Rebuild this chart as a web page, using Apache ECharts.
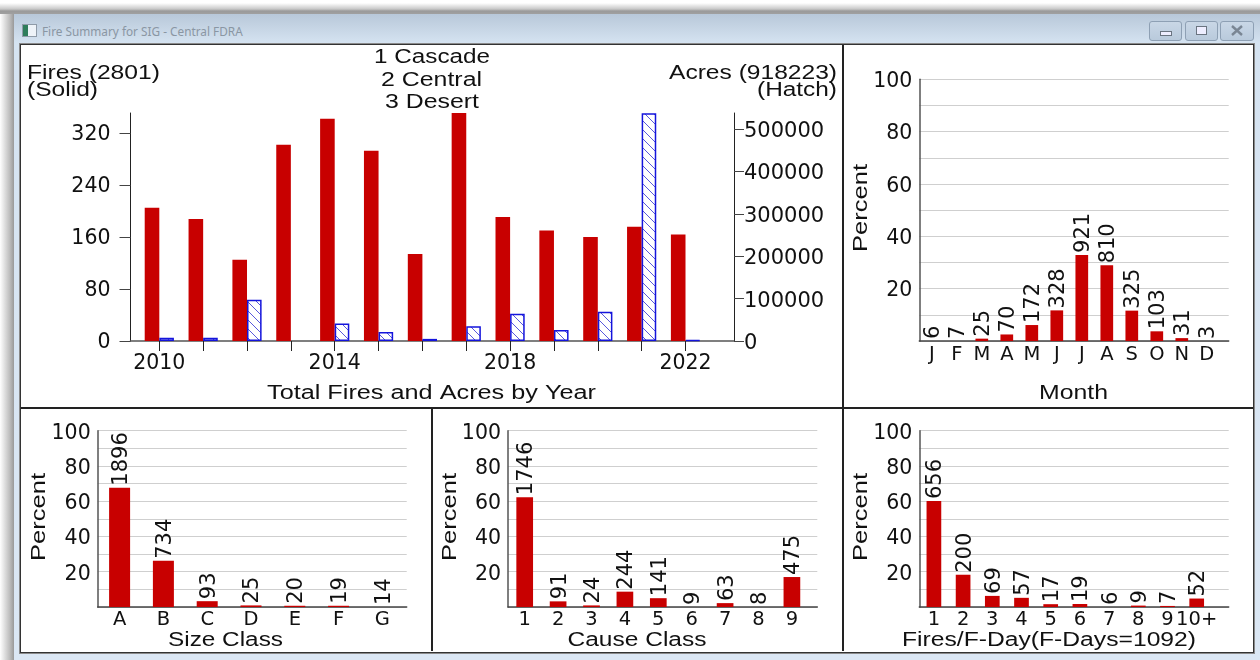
<!DOCTYPE html>
<html><head><meta charset="utf-8">
<script src="https://cdn.jsdelivr.net/npm/echarts@6/dist/echarts.min.js"></script>
<style>
html,body{margin:0;padding:0;width:1260px;height:660px;overflow:hidden;background:#fff}
.abs{position:absolute}
#shadow{left:0;top:0;width:1260px;height:660px;background:linear-gradient(90deg,#fff 0,#bbb 10px,#999 14px,transparent 14px)}
#shadowT{left:0;top:0;width:1260px;height:14px;background:linear-gradient(180deg,#fff 3px,#c8c8c8 9px,#9a9a9a 11px,#a0a0a0 14px)}
#win{left:14px;top:13px;width:1246px;height:647px;background:linear-gradient(180deg,#b7c7d8 0,#d5e3f1 30px,#dbe7f4 100%)}
#ttl{left:42px;top:23px;font:11.8px "Noto Sans";color:#8a96a3;white-space:nowrap}
#ico{left:22px;top:24px;width:13px;height:11px;border:1px solid #8f9ba8;background:linear-gradient(90deg,#2f7d5b 0,#2f7d5b 5px,#eef3f8 5px)}
.btn{top:21px;height:18px;border:1px solid #8ea0b4;border-radius:3px;background:linear-gradient(180deg,#c9d7e6,#b9cadc)}
#panel{left:20px;top:44px;width:1232px;height:607px;background:#fff;border:1px solid #333;outline:1px solid #8a8a8a;box-sizing:content-box}
.d{background:#222}
#c{left:0;top:0;width:1260px;height:660px}
</style></head><body>
<div class="abs" id="shadow"></div><div class="abs" id="win"></div><div class="abs" id="shadowT"></div>
<div class="abs" id="ico"></div>
<div class="abs" id="ttl">Fire Summary for SIG - Central FDRA</div>
<div class="abs btn" style="left:1149px;width:31px"><div class="abs" style="left:10px;top:9px;width:10px;height:3px;border:1px solid #6a7480;background:#eef"></div></div>
<div class="abs btn" style="left:1185px;width:31px"><div class="abs" style="left:10px;top:4px;width:9px;height:7px;border:1px solid #6a7480;background:#eef"></div></div>
<div class="abs btn" style="left:1220px;width:32px"><svg class="abs" style="left:10px;top:3px" width="12" height="11"><path d="M1 1L11 10M11 1L1 10" stroke="#7a8694" stroke-width="2.4"/></svg></div>
<div class="abs" id="panel"></div>
<div class="abs d" style="left:842px;top:45px;width:2px;height:606px"></div>
<div class="abs d" style="left:21px;top:407px;width:1232px;height:2px"></div>
<div class="abs d" style="left:431px;top:408px;width:2px;height:243px"></div>
<div class="abs" id="c"></div>
<script>
const years = [2010,2011,2012,2013,2014,2015,2016,2017,2018,2019,2020,2021,2022];
const yearLabels = [2010,2014,2018,2022];
const fires = [205,188,125,302,342,293,134,351,191,170,160,176,164];
const acres = [7800,7800,97000,null,41000,21000,5000,35000,64000,26000,69000,537000,2000];
const fireTicks = [0,80,160,240,320];
const acreTicks = [0,100000,200000,300000,400000,500000];

const monthCats = ['J','F','M','A','M','J','J','A','S','O','N','D'];
const monthCounts = [6,7,25,70,172,328,921,810,325,103,31,3];
const monthPct = [0,0,0.9,2.5,6.1,11.7,32.9,28.9,11.6,3.7,1.1,0];

const sizeCats = ['A','B','C','D','E','F','G'];
const sizeCounts = [1896,734,93,25,20,19,14];
const sizePct = [67.7,26.2,3.3,0.9,0.7,0.7,0];

const causeCats = ['1','2','3','4','5','6','7','8','9'];
const causeCounts = [1746,91,24,244,141,9,63,8,475];
const causePct = [62.3,3.2,0.9,8.7,5.0,0,2.2,0,17.0];

const fdayCats = ['1','2','3','4','5','6','7','8','9','10+'];
const fdayCounts = [656,200,69,57,17,19,6,9,7,52];
const fdayPct = [60.1,18.3,6.3,5.2,1.6,1.7,0,0.8,0.6,4.8];

const FONT = 'DejaVu Sans', FS = 20.5, RED = '#c80000', TXT = '#111';
const TFONT = '20px "Liberation Sans"';
const richDown = (size,pad)=>({a:{fontFamily:FONT,fontSize:size,color:TXT,padding:[pad,0,0,0]}});

const tile = document.createElement('canvas'); tile.width = 9; tile.height = 9;
const g = tile.getContext('2d');
g.fillStyle = '#fff'; g.fillRect(0,0,9,9);
g.strokeStyle = '#5858dc'; g.lineWidth = 1;
g.beginPath(); g.moveTo(-2,-2); g.lineTo(11,11); g.moveTo(-11,-2); g.lineTo(2,11); g.moveTo(7,-2); g.lineTo(20,11); g.stroke();

const grids = [], xAxes = [], yAxes = [], series = [];

grids.push({left:130.5, top:113, width:603.5, height:228});
xAxes.push({gridIndex:0, type:'value', min:2009.343, max:2023.106,
  axisLine:{lineStyle:{color:'#555',width:1.5}}, splitLine:{show:false},
  axisTick:{show:true, customValues:years, length:10, lineStyle:{color:'#222'}},
  axisLabel:{customValues:yearLabels, formatter:v=>String(v), fontFamily:FONT, fontSize:FS, color:TXT, margin:12}});
yAxes.push({gridIndex:0, type:'value', min:0, max:351, position:'left',
  axisLine:{show:true,onZero:false,lineStyle:{color:'#222'}}, splitLine:{show:false},
  axisTick:{show:true,length:11,customValues:fireTicks,lineStyle:{color:'#444'}},
  axisLabel:{customValues:fireTicks, formatter:v=>'{a|'+v+'}', rich:richDown(FS,3), margin:20}});
yAxes.push({gridIndex:0, type:'value', min:0, max:537736, position:'right',
  axisLine:{show:true,onZero:false,lineStyle:{color:'#222'}}, splitLine:{show:false},
  axisTick:{show:true,length:10,customValues:acreTicks,lineStyle:{color:'#444'}},
  axisLabel:{customValues:acreTicks, formatter:v=>'{a|'+v+'}', rich:richDown(21,5), margin:10}});
series.push({type:'bar', name:'Fires', xAxisIndex:0, yAxisIndex:0, barWidth:14.6, barGap:0,
  data:years.map((y,i)=>[y,fires[i]]), itemStyle:{color:RED}, silent:true, animation:false});
series.push({type:'bar', name:'Acres', xAxisIndex:0, yAxisIndex:1, barWidth:14.6, barGap:0,
  data:years.map((y,i)=>[y,acres[i]]),
  itemStyle:{color:{image:tile,repeat:'repeat'}, borderColor:'#1414dc', borderWidth:1.5}, silent:true, animation:false});

function panel(p){
  const idx = grids.length;
  grids.push({left:p.left, top:p.top, width:p.width, height:p.height});
  const ticks = p.cats.map((c,i)=>i+1);
  xAxes.push({gridIndex:idx, type:'value', min:0.5, max:0.5+p.width/p.step,
    axisLine:{lineStyle:{color:'#444',width:1.5}}, splitLine:{show:false}, axisTick:{show:false},
    axisLabel:{customValues:ticks, formatter:v=>p.cats[v-1], fontFamily:FONT,fontSize:19.5,color:TXT,margin:p.lm}});
  yAxes.push({gridIndex:idx, type:'value', min:0, max:100, interval:10,
    axisLine:{show:true,lineStyle:{color:'#555',width:1.5}}, axisTick:{show:false},
    splitLine:{show:true,lineStyle:{color:'#cfcfcf',width:1.2}},
    axisLabel:{formatter:v=>(v%20===0&&v>0)?'{a|'+v+'}':'', rich:richDown(FS,5), margin:7}});
  series.push({type:'bar', xAxisIndex:idx, yAxisIndex:yAxes.length-1, barWidth:p.bw, silent:true, animation:false,
    data:p.pct.map((v,i)=>({value:[i+1,v], label:{formatter:String(p.counts[i])}})),
    itemStyle:{color:RED},
    label:{show:true, position:'top', distance:2, offset:[0,2], rotate:90, align:'left', verticalAlign:'middle',
      fontFamily:FONT,fontSize:21,color:TXT}});
}
panel({left:919.3,top:79.3,width:309.4,height:261.7,step:25,bw:12.7,cats:monthCats,counts:monthCounts,pct:monthPct,lm:4});
panel({left:97.7,top:430.7,width:309,height:176.3,step:43.8,bw:21,cats:sizeCats,counts:sizeCounts,pct:sizePct,lm:3});
panel({left:508,top:430.7,width:309.3,height:176.3,step:33.4,bw:16.7,cats:causeCats,counts:causeCounts,pct:causePct,lm:3});
panel({left:919.3,top:430.7,width:309.4,height:176.3,step:29.2,bw:14.7,cats:fdayCats,counts:fdayCounts,pct:fdayPct,lm:3});

const mctx = document.createElement('canvas').getContext('2d');
mctx.font = TFONT;
const txt = (t,cx,cy,w,rot)=>({type:'text', x:cx, y:cy, rotation:rot||0, scaleX:w/mctx.measureText(t).width, silent:true,
  style:{text:t, fill:TXT, font:TFONT, textAlign:'center', textVerticalAlign:'middle'}});

const chart = echarts.init(document.getElementById('c'), null, {renderer:'canvas', width:1260, height:660});
chart.setOption({
  backgroundColor:'transparent', animation:false, tooltip:{show:false},
  grid:grids, xAxis:xAxes, yAxis:yAxes, series,
  graphic:[
    txt('1 Cascade',432,57.5,116), txt('2 Central',431.5,80,101), txt('3 Desert',432,102.5,94),
    txt('Fires (2801)',93.5,73.5,133), txt('(Solid)',62.5,90.5,71),
    txt('Acres (918223)',753,73.5,168), txt('(Hatch)',797,90.5,80),
    txt('Total Fires and Acres by Year',431.5,393.5,329),
    txt('Month',1073.5,393.5,69),
    txt('Size Class',225.5,640,115),
    txt('Cause Class',637,640,139),
    txt('Fires/F-Day(F-Days=1092)',1049,640,294),
    txt('Percent',861,208,88,Math.PI/2),
    txt('Percent',39,517,88,Math.PI/2),
    txt('Percent',450,517,88,Math.PI/2),
    txt('Percent',861,517,88,Math.PI/2)
  ]
});
</script>
</body></html>
